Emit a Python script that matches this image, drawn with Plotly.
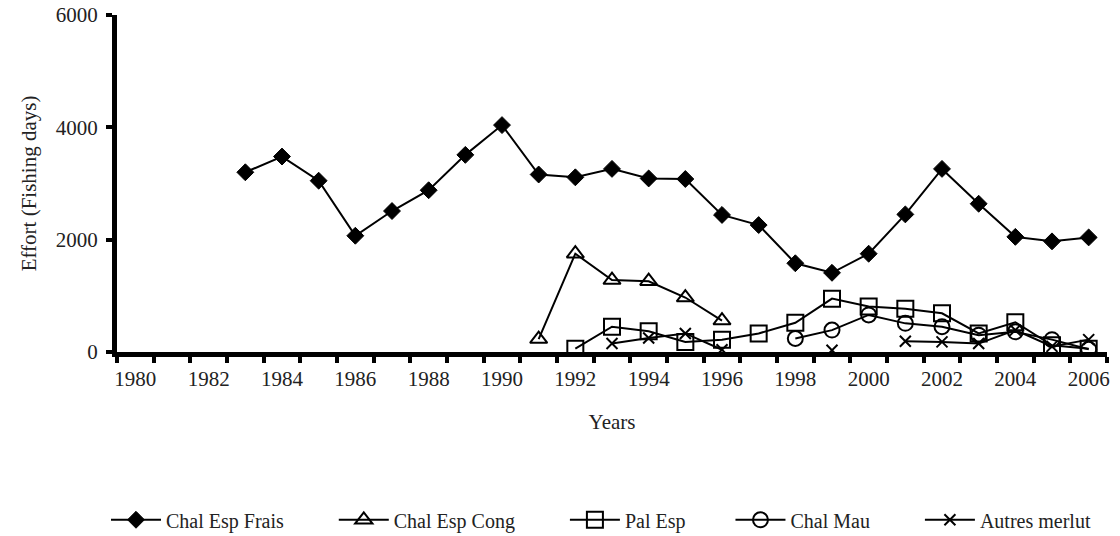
import plotly.graph_objects as go

years = list(range(1980, 2007))

chal_esp_frais = [None, None, None, 3200, 3480, 3050, 2070, 2510, 2880, 3510, 4040,
                  3160, 3110, 3260, 3090, 3080, 2440, 2260, 1580, 1410, 1750,
                  2450, 3260, 2640, 2050, 1970, 2040]
chal_esp_cong = [None]*11 + [230, 1750, 1280, 1260, 970, 560] + [None]*10
pal_esp = [None]*12 + [60, 450, 370, 180, 220, 330, 520, 950, 810, 770, 690, 330, 530, 120, 60]
chal_mau = [None]*18 + [240, 390, 660, 510, 450, 300, 360, 220, 50]
autres_merlut = [None]*13 + [150, 250, 330, 40, None, None, 30, None, 190, 180, 150, 390, 100, 220]

series_names = ["Chal Esp Frais", "Chal Esp Cong", "Pal Esp", "Chal Mau", "Autres merlut"]
x_tick_vals = list(range(1980, 2007, 2))
y_tick_vals = [0, 2000, 4000, 6000]

FONT = "Liberation Serif"
TXT = "#222"
pad_counts = [9, 9, 8, 9, 0]  # non-breaking spaces after each legend label (entry spacing)

fig = go.Figure()
styles = [
    (chal_esp_frais, dict(symbol="diamond", size=13, color="black", line=dict(color="black", width=1))),
    (chal_esp_cong, dict(symbol="triangle-up-open", size=15, color="black", line=dict(color="black", width=2))),
    (pal_esp, dict(symbol="square-open", size=16, color="black", line=dict(color="black", width=2))),
    (chal_mau, dict(symbol="circle-open", size=15, color="black", line=dict(color="black", width=2))),
    (autres_merlut, dict(symbol="x-thin", size=11, color="black", line=dict(color="black", width=2))),
]
for name, (vals, mk), pc in zip(series_names, styles, pad_counts):
    fig.add_trace(go.Scatter(
        x=years, y=vals, name=name + "\u00a0" * pc, mode="lines+markers",
        line=dict(color="black", width=2), marker=mk, connectgaps=False,
    ))

PW = 990
fig.update_layout(
    width=1120, height=536,
    margin=dict(l=117, r=13, t=15, b=184, autoexpand=False),
    paper_bgcolor="white", plot_bgcolor="white",
    font=dict(family=FONT, size=21, color=TXT),
    showlegend=True,
    legend=dict(orientation="h", x=(106 - 117) / PW, xanchor="left", y=-0.44, yanchor="top",
                font=dict(family=FONT, size=20, color=TXT), bgcolor="rgba(0,0,0,0)",
                itemwidth=50),
)
fig.update_xaxes(
    range=[1979.5, 2006.5], tickmode="array", tickvals=x_tick_vals,
    ticktext=[str(v) for v in x_tick_vals], ticks="", showgrid=False, zeroline=False,
    showline=True, linecolor="black", linewidth=5, automargin=False,
    ticklabeloverflow="allow",
    minor=dict(tickmode="linear", tick0=1979.5, dtick=1, ticks="outside", ticklen=6,
               tickwidth=4, tickcolor="black", showgrid=False),
    ticklabelstandoff=4,
    title=dict(text="Years", standoff=26, font=dict(family=FONT, size=21, color=TXT)),
    tickfont=dict(family=FONT, size=21, color=TXT),
)
fig.update_yaxes(
    range=[0, 6000], tickmode="array", tickvals=y_tick_vals, ticks="outside",
    ticklen=6, tickwidth=4, tickcolor="black", showgrid=False, zeroline=False,
    showline=True, linecolor="black", linewidth=5, automargin=False,
    ticklabeloverflow="allow",
    ticklabelstandoff=4,
    title=dict(text="Effort (Fishing days)", standoff=15, font=dict(family=FONT, size=21, color=TXT)),
    tickfont=dict(family=FONT, size=21, color=TXT),
)

fig.write_html("out.html", config={"displayModeBar": False},
               post_script="document.body.style.margin='0';")
